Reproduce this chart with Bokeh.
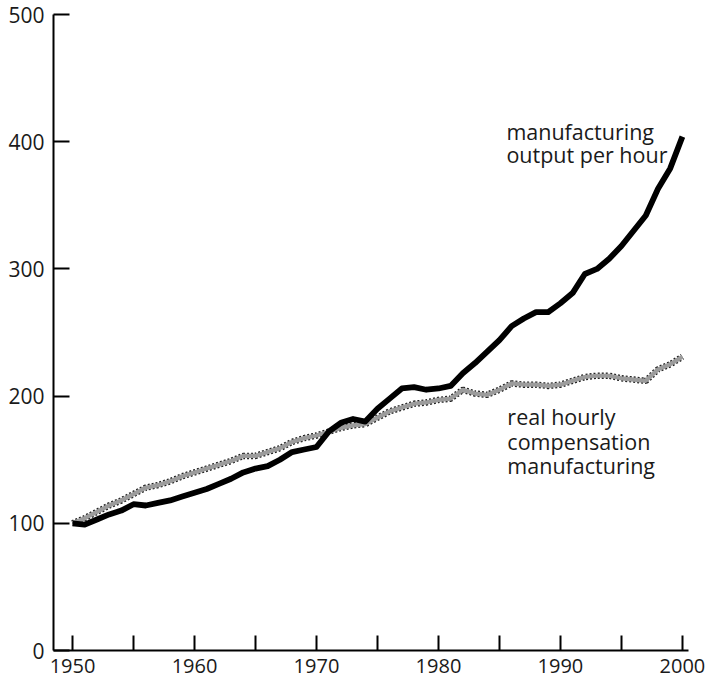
from bokeh.plotting import figure
from bokeh.models import FixedTicker, Label, Range1d
from bokeh.embed import file_html
from bokeh.resources import INLINE

years = list(range(1950, 2001))
output_per_hour = [100, 99, 103, 107, 110, 115, 114, 116, 118, 121,
                   124, 127, 131, 135, 140, 143, 145, 150, 156, 158,
                   160, 172, 179, 182, 180, 190, 198, 206, 207, 205,
                   206, 208, 218, 226, 235, 244, 255, 261, 266, 266,
                   273, 281, 296, 300, 308, 318, 330, 342, 363, 379,
                   404]
real_compensation = [100, 104, 109, 114, 118, 123, 128, 130, 133, 137,
                     140, 143, 146, 149, 153, 153, 156, 159, 164, 167,
                     169, 172, 175, 177, 178, 183, 188, 191, 194, 195,
                     197, 198, 205, 202, 201, 205, 210, 209, 209, 208,
                     209, 212, 215, 216, 216, 214, 213, 212, 221, 225,
                     231]
x_ticks = list(range(1950, 2001, 5))
y_ticks = [0, 100, 200, 300, 400, 500]
label_output = ["manufacturing", "output per hour"]
label_comp = ["real hourly", "compensation", "manufacturing"]

FONT = "Open Sans"
TXT = "#1a1a1a"

p = figure(width=707, height=684, output_backend="svg", toolbar_location=None,
           x_range=Range1d(1948.44, 2000.5), y_range=Range1d(0, 500),
           min_border_left=53, min_border_right=19, min_border_top=14,
           min_border_bottom=34)
p.outline_line_color = None
p.grid.visible = False
p.background_fill_color = "white"
p.border_fill_color = "white"

for ax in (p.xaxis[0], p.yaxis[0]):
    ax.axis_line_width = 2
    ax.axis_line_color = "black"
    ax.major_tick_line_width = 2
    ax.major_tick_line_color = "black"
    ax.minor_tick_line_color = None
    ax.major_tick_out = 0
    ax.major_label_text_font = FONT
    ax.major_label_text_color = TXT

p.xaxis.major_label_text_font_size = "20px"
p.yaxis.major_label_text_font_size = "21px"
p.xaxis.ticker = FixedTicker(ticks=x_ticks)
p.xaxis.major_label_overrides = {t: ("" if t % 10 else str(t)) for t in x_ticks}
p.xaxis.major_tick_in = 15
p.xaxis.major_label_standoff = 8
p.yaxis.ticker = FixedTicker(ticks=y_ticks)
p.yaxis.major_tick_in = 16
p.yaxis.major_label_standoff = 9

# compensation line: gray with dark dotted edges
p.line(years, real_compensation, line_color="#222222", line_width=6.5, line_dash="2 2")
p.line(years, real_compensation, line_color="#9c9c9c", line_width=4.2)
# output per hour: black
p.line(years, output_per_hour, line_color="black", line_width=5.8, line_join="round")

for i, t in enumerate(label_output):
    p.add_layout(Label(x=1985.57, y=408 - 18.1 * i, text=t, text_font=FONT,
                       text_font_size="21.5px", text_color=TXT,
                       text_baseline="alphabetic"))
for i, t in enumerate(label_comp):
    p.add_layout(Label(x=1985.65, y=184 - 19.3 * i, text=t, text_font=FONT,
                       text_font_size="21.5px", text_color=TXT,
                       text_baseline="alphabetic"))

open("out.html", "w").write(file_html(p, INLINE))
